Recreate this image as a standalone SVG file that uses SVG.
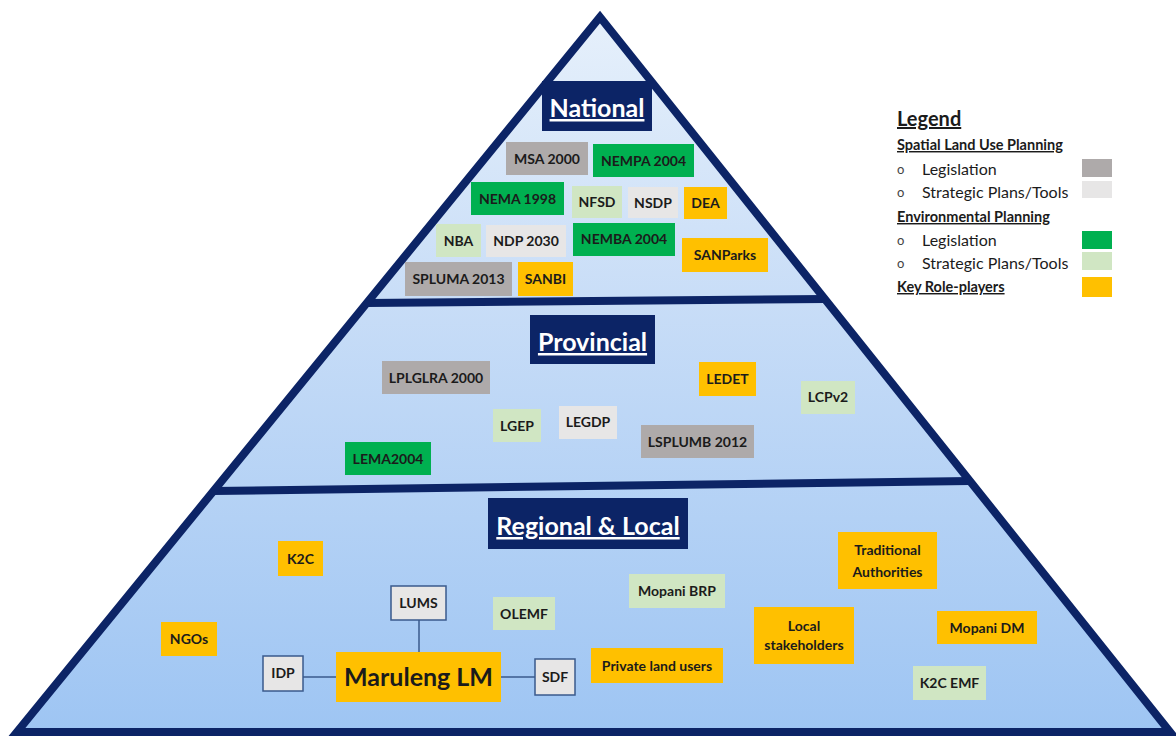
<svg xmlns="http://www.w3.org/2000/svg" width="1176" height="736" viewBox="0 0 1176 736">
  <defs>
    <linearGradient id="pyramidFill" gradientUnits="userSpaceOnUse" x1="0" y1="17" x2="0" y2="732">
      <stop offset="0" stop-color="#e6f0fb"/>
      <stop offset="0.4" stop-color="#c8ddf7"/>
      <stop offset="1" stop-color="#9ec5f3"/>
    </linearGradient>
  </defs>
  <style>
    text { font-family: Lato, "Open Sans", "Liberation Sans", sans-serif; }
    .lbl { font-size: 14px; font-weight: bold; fill: #1b1b1b; text-anchor: middle; }
    .leg-gray { fill: #aeaaaa; }
    .str-gray { fill: #e7e6e6; }
    .leg-green { fill: #00b050; }
    .str-green { fill: #d0e6c3; }
    .player { fill: #ffc000; }
    .tool { fill: #e7e6e6; stroke: #3a5a8c; stroke-width: 1.5; }
    .title-box { fill: #0c2466; }
    .title { font-size: 25px; font-weight: bold; fill: #ffffff; text-anchor: middle; text-decoration: underline; }
    .edge { fill: none; stroke: #0c2466; stroke-width: 8; stroke-linejoin: miter; }
    .link { stroke: #3a5a8c; stroke-width: 1.5; fill: none; }
    .leg-h { font-size: 14.5px; font-weight: bold; fill: #1b1b1b; text-decoration: underline; }
    .leg-t { font-size: 16px; fill: #1b1b1b; }
    .bullet { font-size: 13px; fill: #444444; }
  </style>

  <!-- pyramid body -->
  <g id="pyramid">
    <polygon points="600,17 17,732 1170,732" fill="url(#pyramidFill)"/>
    <line x1="367" y1="303" x2="825" y2="299" stroke="#0c2466" stroke-width="8"/>
    <line x1="213" y1="491" x2="970" y2="481" stroke="#0c2466" stroke-width="8"/>
    <polygon class="edge" points="600,17 17,732 1170,732"/>
  </g>

  <!-- tier titles -->
  <g id="title-national">
    <rect class="title-box" x="542" y="81" width="110" height="50"/>
    <text class="title" x="597" y="117">National</text>
  </g>
  <g id="title-provincial">
    <rect class="title-box" x="530" y="315" width="125" height="49"/>
    <text class="title" x="592.5" y="351">Provincial</text>
  </g>
  <g id="title-regional">
    <rect class="title-box" x="488" y="498" width="200" height="51"/>
    <text class="title" x="588" y="535">Regional &amp; Local</text>
  </g>

  <!-- national tier -->
  <g id="msa-2000"><rect class="leg-gray" x="506" y="142" width="82" height="33"/><text class="lbl" x="547" y="164">MSA 2000</text></g>
  <g id="nempa-2004"><rect class="leg-green" x="593" y="144" width="101" height="33"/><text class="lbl" x="643.5" y="166">NEMPA 2004</text></g>
  <g id="nema-1998"><rect class="leg-green" x="471" y="182" width="93" height="33"/><text class="lbl" x="517.5" y="204">NEMA 1998</text></g>
  <g id="nfsd"><rect class="str-green" x="572" y="186" width="50" height="32"/><text class="lbl" x="597" y="207">NFSD</text></g>
  <g id="nsdp"><rect class="str-gray" x="628" y="187" width="50" height="31"/><text class="lbl" x="653" y="208">NSDP</text></g>
  <g id="dea"><rect class="player" x="684" y="187" width="43" height="32"/><text class="lbl" x="705.5" y="208">DEA</text></g>
  <g id="nba"><rect class="str-green" x="436" y="224" width="45" height="33"/><text class="lbl" x="458.5" y="246">NBA</text></g>
  <g id="ndp-2030"><rect class="str-gray" x="486" y="225" width="80" height="32"/><text class="lbl" x="526" y="246">NDP 2030</text></g>
  <g id="nemba-2004"><rect class="leg-green" x="573" y="223" width="102" height="33"/><text class="lbl" x="624" y="244">NEMBA 2004</text></g>
  <g id="sanparks"><rect class="player" x="682" y="238" width="86" height="34"/><text class="lbl" x="725" y="260">SANParks</text></g>
  <g id="spluma-2013"><rect class="leg-gray" x="405" y="262" width="107" height="34"/><text class="lbl" x="458.5" y="284">SPLUMA 2013</text></g>
  <g id="sanbi"><rect class="player" x="518" y="262" width="55" height="34"/><text class="lbl" x="545.5" y="284">SANBI</text></g>

  <!-- provincial tier -->
  <g id="lplglra-2000"><rect class="leg-gray" x="382" y="361" width="108" height="33"/><text class="lbl" x="436" y="383">LPLGLRA 2000</text></g>
  <g id="ledet"><rect class="player" x="699" y="362" width="57" height="34"/><text class="lbl" x="727.5" y="384">LEDET</text></g>
  <g id="lcpv2"><rect class="str-green" x="801" y="381" width="54" height="33"/><text class="lbl" x="828" y="402">LCPv2</text></g>
  <g id="lgep"><rect class="str-green" x="493" y="409" width="48" height="33"/><text class="lbl" x="517" y="431">LGEP</text></g>
  <g id="legdp"><rect class="str-gray" x="559" y="406" width="58" height="33"/><text class="lbl" x="588" y="427">LEGDP</text></g>
  <g id="lsplumb-2012"><rect class="leg-gray" x="641" y="425" width="113" height="33"/><text class="lbl" x="697.5" y="447">LSPLUMB 2012</text></g>
  <g id="lema2004"><rect class="leg-green" x="345" y="442" width="86" height="33"/><text class="lbl" x="388" y="464">LEMA2004</text></g>

  <!-- links around the local municipality -->
  <g id="connectors">
    <line class="link" x1="419" y1="620" x2="419" y2="652"/>
    <line class="link" x1="303" y1="677" x2="336" y2="677"/>
    <line class="link" x1="501" y1="677" x2="535" y2="677"/>
  </g>

  <!-- regional and local tier -->
  <g id="k2c"><rect class="player" x="278" y="541" width="45" height="35"/><text class="lbl" x="300.5" y="564">K2C</text></g>
  <g id="lums"><rect class="tool" x="391" y="586" width="55" height="34"/><text class="lbl" x="418.5" y="608">LUMS</text></g>
  <g id="olemf"><rect class="str-green" x="493" y="597" width="62" height="33"/><text class="lbl" x="524" y="619">OLEMF</text></g>
  <g id="ngos"><rect class="player" x="161" y="622" width="56" height="34"/><text class="lbl" x="189" y="644">NGOs</text></g>
  <g id="idp"><rect class="tool" x="263" y="656" width="40" height="35"/><text class="lbl" x="283" y="678">IDP</text></g>
  <g id="maruleng-lm"><rect class="player" x="336" y="652" width="165" height="50"/><text class="lbl" x="418.5" y="686" style="font-size:25px">Maruleng LM</text></g>
  <g id="sdf"><rect class="tool" x="535" y="659" width="40" height="36"/><text class="lbl" x="555" y="682">SDF</text></g>
  <g id="mopani-brp"><rect class="str-green" x="629" y="574" width="96" height="34"/><text class="lbl" x="677" y="596">Mopani BRP</text></g>
  <g id="private-land-users"><rect class="player" x="591" y="648" width="132" height="35"/><text class="lbl" x="657" y="671">Private land users</text></g>
  <g id="local-stakeholders"><rect class="player" x="754" y="607" width="100" height="57"/><text class="lbl" x="804" y="631">Local<tspan x="804" dy="19">stakeholders</tspan></text></g>
  <g id="traditional-authorities"><rect class="player" x="838" y="532" width="99" height="57"/><text class="lbl" x="887.5" y="555">Traditional<tspan x="887.5" dy="22">Authorities</tspan></text></g>
  <g id="mopani-dm"><rect class="player" x="937" y="611" width="100" height="33"/><text class="lbl" x="987" y="633">Mopani DM</text></g>
  <g id="k2c-emf"><rect class="str-green" x="913" y="666" width="73" height="34"/><text class="lbl" x="949.5" y="688">K2C EMF</text></g>

  <!-- legend -->
  <g id="legend">
    <text x="897" y="126" style="font-size:20px;font-weight:bold;fill:#1b1b1b;text-decoration:underline">Legend</text>
    <text class="leg-h" x="897" y="150">Spatial Land Use Planning</text>
    <text class="bullet" x="897" y="174">o</text>
    <text class="leg-t" x="922" y="175">Legislation</text>
    <rect class="leg-gray" x="1082" y="159" width="30" height="18"/>
    <text class="bullet" x="897" y="197">o</text>
    <text class="leg-t" x="922" y="198">Strategic Plans/Tools</text>
    <rect class="str-gray" x="1082" y="181" width="30" height="17"/>
    <text class="leg-h" x="897" y="222">Environmental Planning</text>
    <text class="bullet" x="897" y="245">o</text>
    <text class="leg-t" x="922" y="246">Legislation</text>
    <rect class="leg-green" x="1082" y="231" width="30" height="18"/>
    <text class="bullet" x="897" y="268">o</text>
    <text class="leg-t" x="922" y="269">Strategic Plans/Tools</text>
    <rect class="str-green" x="1082" y="252" width="30" height="18"/>
    <text class="leg-h" x="897" y="292">Key Role-players</text>
    <rect class="player" x="1082" y="277" width="30" height="20"/>
  </g>
</svg>
